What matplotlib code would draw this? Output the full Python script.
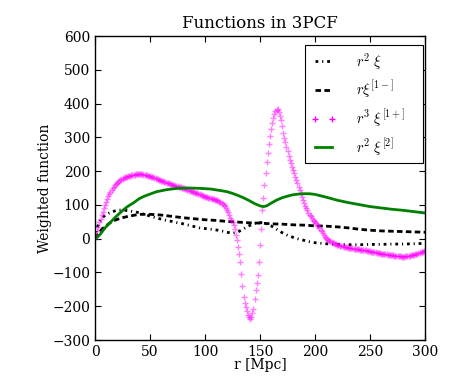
import matplotlib
matplotlib.use("Agg")
import matplotlib.pyplot as plt

# ---------------- data ----------------
# r^2 xi  (dash-dot)
r_xi = [0, 2, 4, 6, 8, 10, 13, 16, 20, 25, 30, 35, 40, 45, 50, 55, 60, 65, 70, 75,
        80, 85, 90, 95, 100, 105, 110, 115, 120, 125, 130, 135, 140, 145, 150, 155,
        160, 165, 170, 175, 180, 185, 190, 195, 200, 210, 220, 230, 240, 250, 260,
        270, 280, 290, 300]
r2_xi = [0, 32, 50, 60, 66, 71, 76, 80, 84, 85, 83, 80, 77, 72, 67, 62, 58, 54, 51, 47,
         44, 40, 36, 32, 30, 28, 26, 23, 19, 16, 20, 29, 38, 45, 48, 45,
         38, 28, 18, 10, 4, -1, -5, -9, -12, -15, -17, -18, -18, -17, -17,
         -16, -16, -15, -14]

# r xi^[1-]  (dashed)
r_m = [0, 2, 4, 6, 8, 10, 15, 20, 25, 30, 40, 50, 60, 70, 80, 90, 100, 110, 120, 130,
       140, 150, 160, 170, 180, 190, 200, 210, 220, 230, 240, 250, 260, 270, 280, 290, 300]
r_xi1m = [0, 10, 19, 27, 33, 38, 50, 57, 62, 66, 72, 72, 70, 66, 62, 59, 56, 54, 51, 49,
          47, 46, 44, 43, 41, 40, 38, 37, 35, 32, 28, 25, 23, 22, 21, 20, 19]

# r^3 xi^[1+]  (plus markers), r = 0, 1, ..., 300
r_p = list(range(0, 301))
r3_xi1p = [
    0, 11, 22, 35, 48, 59, 70, 80, 90, 99,
    108, 117, 125, 132, 138, 144, 149, 154, 158, 162,
    165, 168, 171, 174, 176, 178, 180, 182, 183, 184,
    185, 186, 187, 188, 188, 189, 189, 190, 190, 190,
    190, 190, 190, 190, 189, 189, 188, 188, 187, 186,
    185, 184, 183, 182, 181, 180, 178, 177, 175, 174,
    172, 171, 170, 169, 167, 166, 165, 164, 163, 161,
    160, 159, 158, 157, 156, 155, 154, 153, 152, 151,
    150, 149, 147, 146, 145, 144, 142, 141, 140, 139,
    138, 136, 135, 134, 132, 131, 130, 128, 127, 126,
    124, 123, 122, 121, 120, 119, 118, 117, 116, 115,
    114, 113, 112, 110, 108, 106, 103, 100, 96, 91,
    85, 78, 70, 62, 56, 50, 40, 28, 12, -5,
    -25, -46, -68, -105, -140, -172, -190, -203, -214, -225,
    -233, -238, -232, -220, -207, -180, -152, -130, -108, -70,
    -20, 30, 85, 120, 158, 194, 228, 255, 280, 305,
    325, 342, 357, 368, 377, 382, 383, 375, 364, 350,
    333, 313, 299, 285, 272, 259, 246, 233, 223, 213,
    203, 193, 184, 174, 164, 154, 144, 134, 124, 114,
    106, 98, 91, 84, 77, 71, 66, 61, 56, 52,
    48, 45, 41, 37, 32, 27, 22, 16, 10, 5,
    2, -1, -3, -6, -8, -10, -12, -13, -15, -16,
    -18, -19, -20, -21, -22, -23, -24, -25, -26, -26,
    -27, -28, -28, -29, -29, -30, -30, -31, -31, -32,
    -32, -33, -33, -34, -34, -35, -35, -36, -36, -37,
    -37, -38, -38, -39, -40, -40, -41, -42, -43, -43,
    -44, -44, -45, -45, -46, -46, -47, -47, -48, -48,
    -49, -49, -50, -50, -51, -51, -52, -52, -52, -53,
    -53, -53, -52, -52, -51, -51, -50, -49, -48, -48,
    -47, -46, -45, -44, -43, -42, -40, -39, -38, -36,
    -35]

# r^2 xi^[2]  (green)
r_2 = [0, 2, 5, 8, 10, 14, 18, 22, 26, 30, 35, 40, 45, 50, 56, 65, 75, 85, 95, 105, 115,
       120, 125, 130, 135, 140, 145, 150, 153, 156, 160, 165, 170, 175, 180, 185, 190,
       195, 200, 205, 210, 220, 230, 240, 250, 260, 270, 280, 290, 300]
r2_xi2 = [0, 4, 14, 27, 35, 48, 62, 74, 86, 96, 106, 118, 126, 132, 139, 145, 149, 150,
          149, 147, 142, 139, 134, 128, 121, 113, 104, 97, 95, 97, 105, 114, 121, 126,
          130, 132, 133, 133, 131, 127, 123, 114, 107, 101, 95, 91, 87, 84, 80, 76]

labels = [r'$r^2\ \xi$', r'$r\xi^{[1-]}$', r'$r^3\ \xi^{[1+]}$', r'$r^2\ \xi^{[2]}$']

# ---------------- plot ----------------
plt.rcParams['font.family'] = ['DejaVu Serif']
plt.rcParams['mathtext.fontset'] = 'cm'
plt.rcParams['xtick.direction'] = 'in'
plt.rcParams['ytick.direction'] = 'in'
plt.rcParams['xtick.top'] = True
plt.rcParams['ytick.right'] = True
plt.rcParams['xtick.major.size'] = 4
plt.rcParams['ytick.major.size'] = 4

fig = plt.figure(figsize=(4.73, 3.79), dpi=100)
ax = fig.add_axes([95 / 473, 39 / 379, 330 / 473, 304 / 379])

ax.plot(r_xi, r2_xi, color='k', lw=2, linestyle=(0, (1.0, 1.4, 0.4, 1.4)), label=labels[0])
ax.plot(r_m, r_xi1m, color='k', lw=2, linestyle=(0, (2.0, 1.2)), label=labels[1])
ax.plot(r_p, r3_xi1p, linestyle='none', marker='+', ms=5, mew=1,
        color='magenta', alpha=0.5, label=labels[2])
ax.plot(r_2, r2_xi2, color='green', lw=2, label=labels[3])

ax.set_xlim(0, 300)
ax.set_ylim(-300, 600)
ax.set_xticks(range(0, 301, 50))
ax.set_yticks(range(-300, 601, 100))
ax.tick_params(labelsize=10, width=0.8)
for s in ax.spines.values():
    s.set_linewidth(1.0)

ax.set_title('Functions in 3PCF', fontsize=12)
ax.set_xlabel('r [Mpc]', fontsize=10)
ax.xaxis.set_label_coords(0.5, -0.058)
ax.set_ylabel('Weighted function', fontsize=10)
ax.yaxis.set_label_coords(-0.13, 0.5)

x0 = (305 - 95) / 330
w = (423 - 305) / 330
ytop = (340 - 45) / 304
leg = ax.legend(loc='upper left', bbox_to_anchor=(x0, ytop - 0.5, w, 0.5),
                mode='expand', borderaxespad=0,
                fontsize=10.5, numpoints=2, fancybox=False, edgecolor='k',
                framealpha=1, handlelength=1.75, handletextpad=1.35,
                labelspacing=0.48, borderpad=0.4)
leg.get_frame().set_linewidth(0.8)
for lh in leg.legend_handles:
    lh.set_alpha(1)

fig.savefig('out.png', dpi=100)
